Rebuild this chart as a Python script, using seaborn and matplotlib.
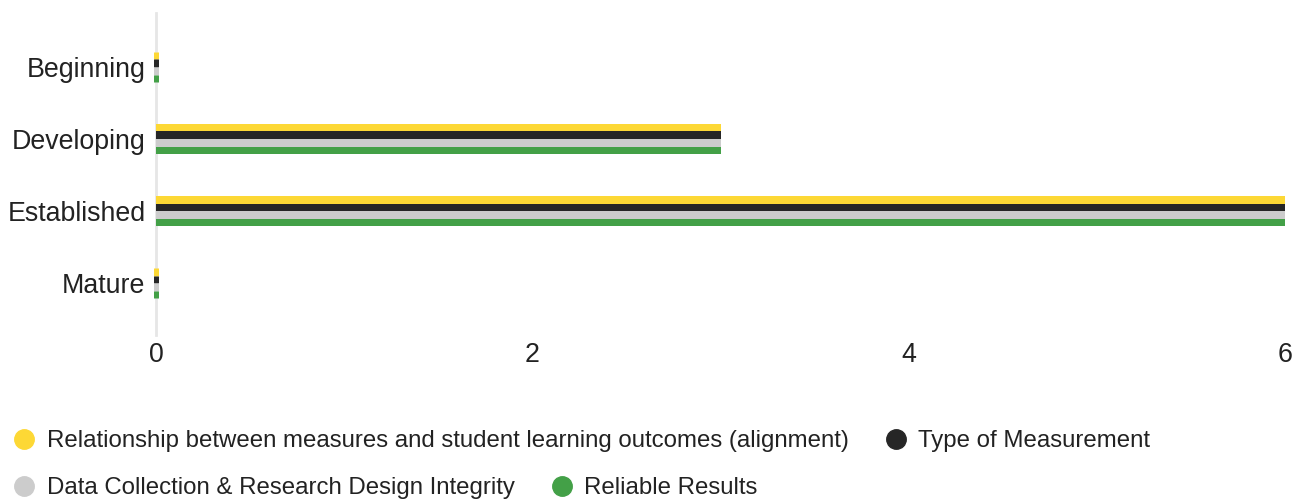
import pandas as pd
import matplotlib.pyplot as plt
import seaborn as sns
from matplotlib.lines import Line2D

levels = ["Beginning", "Developing", "Established", "Mature"]
series = [
    "Relationship between measures and student learning outcomes (alignment)",
    "Type of Measurement",
    "Data Collection & Research Design Integrity",
    "Reliable Results",
]
alignment = [0, 3, 6, 0]
measurement = [0, 3, 6, 0]
integrity = [0, 3, 6, 0]
reliable = [0, 3, 6, 0]
colors = ["#FDD835", "#262626", "#CCCCCC", "#43A047"]

rows = []
for name, vals in zip(series, [alignment, measurement, integrity, reliable]):
    for lvl, v in zip(levels, vals):
        rows.append({"level": lvl, "series": name, "count": v})
df = pd.DataFrame(rows)

sns.set_theme(style="white")
plt.rcParams["font.family"] = ["Liberation Sans", "DejaVu Sans"]

fig = plt.figure(figsize=(13.02, 5.0), dpi=100)
ax = fig.add_axes([156 / 1302, 1 - 335 / 500, (1285 - 156) / 1302, (335 - 13) / 500])

sns.barplot(data=df, y="level", x="count", hue="series", order=levels,
            hue_order=series, palette=colors, saturation=1, orient="h",
            width=0.42, gap=0, linewidth=0, legend=False, ax=ax)

ax.set_xlim(0, 6)
ax.set_ylim(3.72, -0.75)

# zero bars still show as small stubs
for p in ax.patches:
    if p.get_width() == 0:
        p.set_edgecolor(p.get_facecolor())
        p.set_linewidth(3.6)
        p.set_joinstyle("bevel")
        p.set_clip_on(False)

ax.set_xticks([0, 2, 4, 6])
ax.set_xlabel("")
ax.set_ylabel("")
for s in ["top", "right", "bottom"]:
    ax.spines[s].set_visible(False)
ax.spines["left"].set_color("#E6E6E6")
ax.spines["left"].set_linewidth(2)
ax.spines["left"].set_zorder(0)
ax.tick_params(axis="y", length=0, pad=7.5, labelsize=19.3, labelcolor="#222222")
ax.tick_params(axis="x", length=0, pad=5, labelsize=19.3, labelcolor="#222222")

def handle(c):
    return Line2D([], [], marker="o", linestyle="", markersize=14,
                  markerfacecolor=c, markeredgecolor=c)

leg_kw = dict(loc="center left", ncol=2, frameon=False, fontsize=17.3,
              handletextpad=0.45, columnspacing=1.45, handlelength=1.0,
              borderaxespad=0, borderpad=0, labelcolor="#222222")
fig.legend([handle(colors[0]), handle(colors[1])], series[:2],
           bbox_to_anchor=(12 / 1302, 1 - 441 / 500), **leg_kw)
fig.legend([handle(colors[2]), handle(colors[3])], series[2:],
           bbox_to_anchor=(12 / 1302, 1 - 488 / 500), **leg_kw)

fig.savefig("out.png", dpi=100)
